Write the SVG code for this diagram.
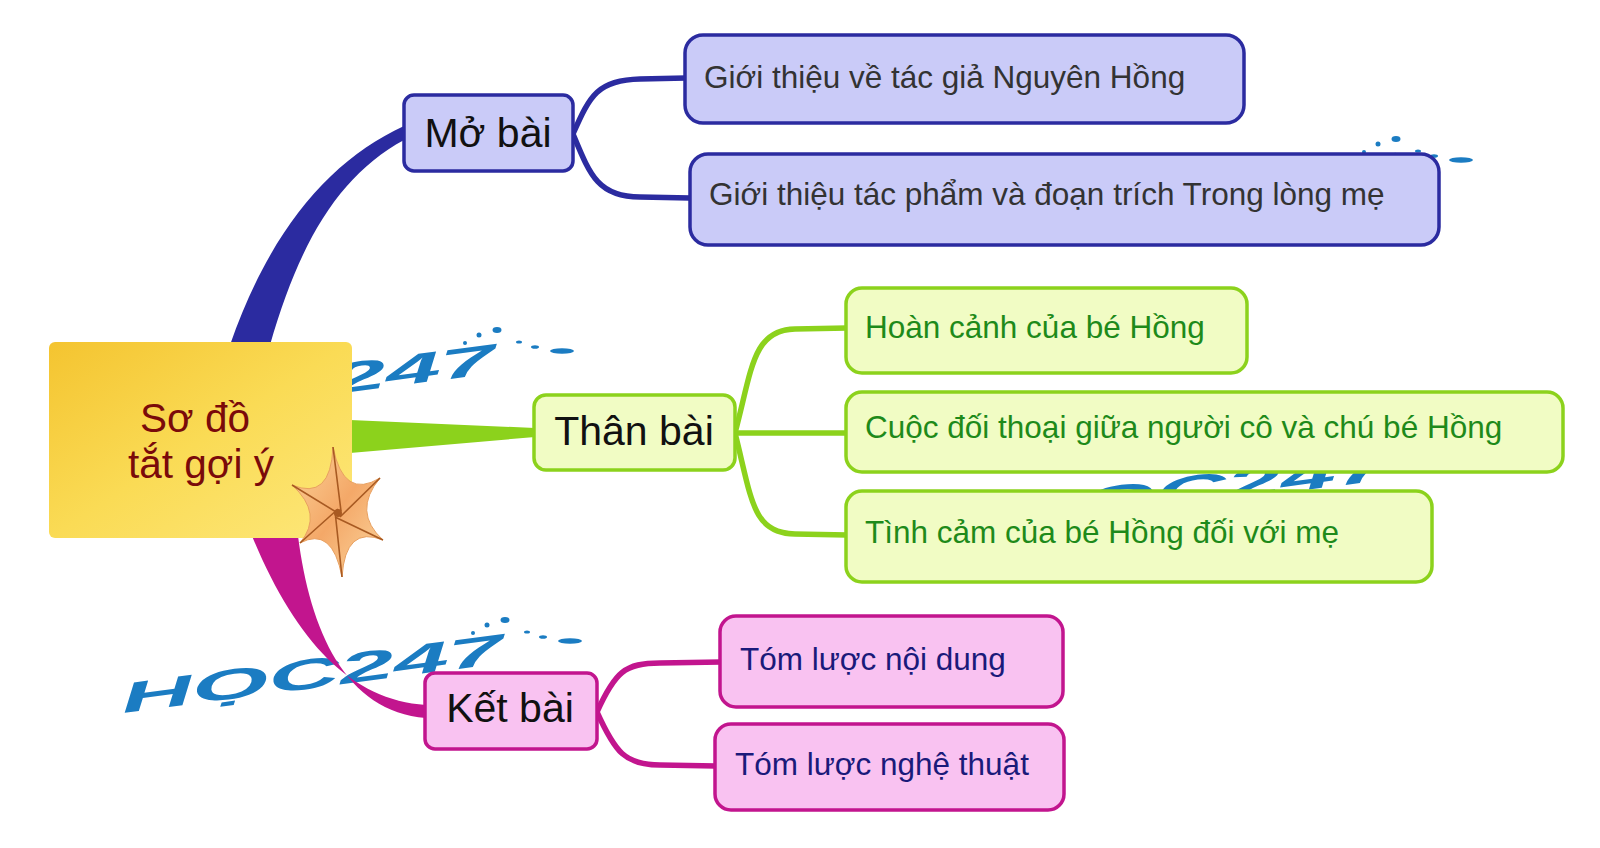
<svg xmlns="http://www.w3.org/2000/svg" width="1600" height="848" viewBox="0 0 1600 848">
<defs>
<linearGradient id="gCenter" x1="0" y1="0" x2="1" y2="1">
<stop offset="0" stop-color="#f4c430"/>
<stop offset="0.5" stop-color="#fadb55"/>
<stop offset="1" stop-color="#fde77a"/>
</linearGradient>
<linearGradient id="gStar" x1="0" y1="0" x2="1" y2="1">
<stop offset="0" stop-color="#fbd39a"/>
<stop offset="0.5" stop-color="#f4a868"/>
<stop offset="1" stop-color="#fbd7a0"/>
</linearGradient>
<g id="logo" fill="#1b7cc2">
<g transform="rotate(-7.5)">
<text x="0" y="0" font-family="Liberation Sans, Arial, sans-serif" font-weight="bold" font-style="italic" font-size="42" textLength="385" lengthAdjust="spacingAndGlyphs">HỌC247</text>
</g>
<ellipse cx="350" cy="-80" rx="2" ry="2"/>
<ellipse cx="364" cy="-88" rx="2.5" ry="2.5"/>
<ellipse cx="382" cy="-93" rx="4.5" ry="3"/>
<ellipse cx="404" cy="-81" rx="3" ry="1.6"/>
<ellipse cx="420" cy="-76" rx="4" ry="1.8"/>
<ellipse cx="447" cy="-72" rx="12" ry="2.8"/>
</g>
<style>
.t{font-family:"Liberation Sans",Arial,sans-serif}
.main{font-size:41px;fill:#111}
.sub{font-size:31.5px}
.blueBox{fill:#cacbf8;stroke:#2b2ba0;stroke-width:3.5}
.greenBox{fill:#f1fcc4;stroke:#8cd21c;stroke-width:3.5}
.pinkBox{fill:#f9c2f1;stroke:#c2158e;stroke-width:3.5}
.cb{fill:none;stroke:#2b2ba0;stroke-width:5.5;stroke-linecap:round}
.cg{fill:none;stroke:#8cd21c;stroke-width:5.5;stroke-linecap:round}
.cp{fill:none;stroke:#c2158e;stroke-width:5.5;stroke-linecap:round}
</style>
</defs>
<rect width="1600" height="848" fill="#ffffff"/>

<g id="watermarks">
<use href="#logo" transform="translate(123,713)"/>
<use href="#logo" transform="translate(115,423)"/>
<use href="#logo" transform="translate(1010,529)"/>
<use href="#logo" transform="translate(1014,232)"/>
</g>

<g id="connectors">
<path d="M 230 345 C 270 230, 330 160, 404 126 L 404 140 C 340 175, 300 240, 270 345 Z" fill="#2b2ba0"/>
<path d="M 350 420 L 535 428 L 535 437 L 350 453 Z" fill="#8cd21c"/>
<path d="M 252 536 C 295 640, 350 700, 426 705 L 426 718 C 345 712, 310 630, 298 536 Z" fill="#c2158e"/>
<path class="cb" d="M 573 134 C 590 95, 598 80, 640 79 L 686 78"/>
<path class="cb" d="M 573 134 C 590 175, 598 197, 640 197 L 690 198"/>
<path class="cg" d="M 735 433 C 752 370, 752 330, 795 329 L 847 328"/>
<path class="cg" d="M 735 433 L 847 433"/>
<path class="cg" d="M 735 433 C 752 500, 752 533, 795 534 L 847 535"/>
<path class="cp" d="M 597 712 C 615 672, 625 663, 660 663 L 721 662"/>
<path class="cp" d="M 597 712 C 615 752, 625 765, 660 765 L 716 766"/>
</g>

<g id="center">
<rect x="49" y="342" width="303" height="196" rx="6" fill="url(#gCenter)"/>
<text class="t" x="195" y="432" font-size="40.5" fill="#7a0a0a" text-anchor="middle">Sơ đồ</text>
<text class="t" x="201" y="478" font-size="40.5" fill="#7a0a0a" text-anchor="middle">tắt gợi ý</text>
<g transform="translate(338,513)">
<path d="M -5 -66 Q 5.5 -12.9 42 -35 Q 14 -1.1 45 27 Q 7.3 12 4 64 Q -5.7 12.8 -38 30 Q -14 0.9 -46 -28 Q -7.3 -11.9 -5 -66 Z" fill="url(#gStar)" stroke="#e8a060" stroke-width="1"/>
<path d="M -5 -66 L 3 -2 M 42 -35 L 2 4 M 45 27 L -3 4 M 4 64 L -3 -2 M -38 30 L 0 -4 M -46 -28 L 3 2" stroke="#a85a22" stroke-width="1.6" fill="none"/>
<circle cx="0" cy="0" r="4" fill="#a85a22"/>
</g>
</g>

<g id="mo-bai">
<rect class="blueBox" x="404" y="95" width="169" height="76" rx="10"/>
<text class="t main" x="488" y="147" text-anchor="middle">Mở bài</text>
</g>
<g id="mo-bai-1">
<rect class="blueBox" x="685" y="35" width="559" height="88" rx="18"/>
<text class="t sub" x="704" y="88" fill="#333">Giới thiệu về tác giả Nguyên Hồng</text>
</g>
<g id="mo-bai-2">
<rect class="blueBox" x="690" y="154" width="749" height="91" rx="18"/>
<text class="t sub" x="709" y="205" fill="#333">Giới thiệu tác phẩm và đoạn trích Trong lòng mẹ</text>
</g>

<g id="than-bai">
<rect class="greenBox" x="534" y="395" width="201" height="75" rx="12"/>
<text class="t main" x="634" y="445" text-anchor="middle">Thân bài</text>
</g>
<g id="than-bai-1">
<rect class="greenBox" x="846" y="288" width="401" height="85" rx="16"/>
<text class="t sub" x="865" y="338" fill="#1e8a1a">Hoàn cảnh của bé Hồng</text>
</g>
<g id="than-bai-2">
<rect class="greenBox" x="846" y="392" width="717" height="80" rx="16"/>
<text class="t sub" x="865" y="438" fill="#1e8a1a">Cuộc đối thoại giữa người cô và chú bé Hồng</text>
</g>
<g id="than-bai-3">
<rect class="greenBox" x="846" y="491" width="586" height="91" rx="16"/>
<text class="t sub" x="865" y="543" fill="#1e8a1a">Tình cảm của bé Hồng đối với mẹ</text>
</g>

<g id="ket-bai">
<rect class="pinkBox" x="425" y="673" width="172" height="76" rx="10"/>
<text class="t main" x="510" y="722" text-anchor="middle">Kết bài</text>
</g>
<g id="ket-bai-1">
<rect class="pinkBox" x="720" y="616" width="343" height="91" rx="16"/>
<text class="t sub" x="740" y="670" fill="#1a1a7a">Tóm lược nội dung</text>
</g>
<g id="ket-bai-2">
<rect class="pinkBox" x="715" y="724" width="349" height="86" rx="16"/>
<text class="t sub" x="735" y="775" fill="#1a1a7a">Tóm lược nghệ thuật</text>
</g>
</svg>
